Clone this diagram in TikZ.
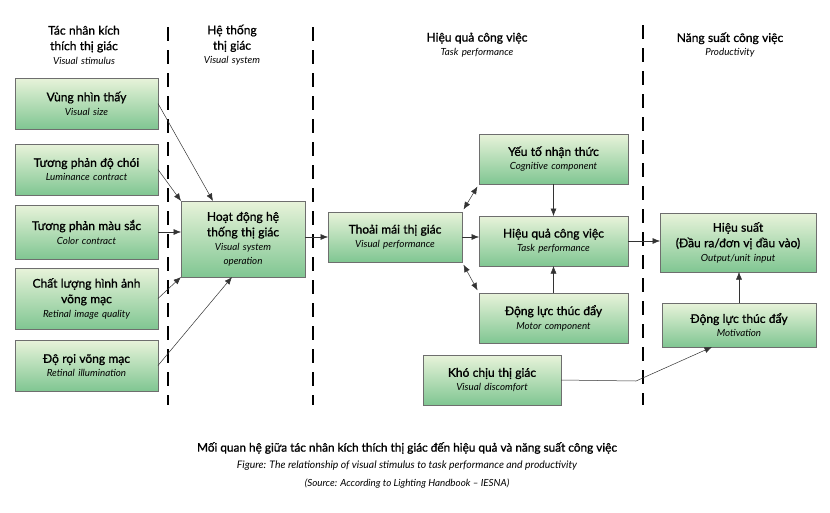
\documentclass[tikz,border=0pt]{standalone}
\usepackage{fontspec}
\setmainfont{Lato}[UprightFeatures={FakeBold=1.2}]
\usepackage{tikz}
\usetikzlibrary{arrows.meta}
\newcommand{\mainsize}{\fontsize{12}{15.5}\selectfont}
\newcommand{\subsize}{\fontsize{9.8}{14}\selectfont\itshape}
\newcommand{\boxtext}[2]{{\mainsize #1\par}{\subsize #2\par}}
\definecolor{boxtop}{RGB}{232,243,218}
\definecolor{boxbottom}{RGB}{128,198,146}
\definecolor{boxedge}{RGB}{110,110,110}

\begin{document}
\begin{tikzpicture}[x=1pt,y=-1pt,
  factor/.style 2 args={draw=boxedge,line width=0.8pt,top color=boxtop,bottom color=boxbottom,
    inner sep=0pt,outer sep=0pt,align=center,text width=#1,minimum height=#2},
  link/.style={line width=0.5pt,draw=black!80,-{Latex[length=7.5pt,width=6pt]}},
  twolink/.style={line width=0.5pt,draw=black!80,{Latex[length=7.5pt,width=6pt]}-{Latex[length=7.5pt,width=6pt]},
    shorten <=3pt,shorten >=3pt},
  divider/.style={line width=2.4pt,dash pattern=on 14pt off 9pt},
  heading/.style={align=center,inner sep=0pt,text width=160pt}]
\useasboundingbox (0,0) rectangle (830,512);

% column headings
\node[heading] (headStimulus)   at (  84, 45) {{\mainsize Tác nhân kích\\thích thị giác\par}{\subsize Visual stimulus\par}};
\node[heading] (headSystem)     at ( 232, 45) {{\mainsize Hệ thống\\thị giác\par}{\subsize Visual system\par}};
\node[heading] (headTask)       at ( 477, 45) {{\mainsize Hiệu quả công việc\par}{\subsize Task performance\par}};
\node[heading] (headProduct)    at ( 730, 45) {{\mainsize Năng suất công việc\par}{\subsize Productivity\par}};

% column dividers
\draw[divider] (168,27) -- (168,405);
\draw[divider] (313,27) -- (313,405);
\draw[divider] (643,25) -- (643,405);

% visual stimulus
\node[factor={143pt}{51pt}] (visualSize)   at (86.5,103.5) {\boxtext{Vùng nhìn thấy}{Visual size}};
\node[factor={143pt}{51pt}] (luminance)    at (86.5,169.5) {\boxtext{Tương phản độ chói}{Luminance contract}};
\node[factor={143pt}{54pt}] (colour)       at (86.5,232)   {\boxtext{Tương phản màu sắc}{Color contract}};
\node[factor={143pt}{61pt}] (retinalImage) at (86.5,298.5) {\boxtext{Chất lượng hình ảnh\\võng mạc}{Retinal image quality}};
\node[factor={143pt}{51pt}] (retinalIllum) at (86.5,365.5) {\boxtext{Độ rọi võng mạc}{Retinal illumination}};

% visual system
\node[factor={124pt}{76pt}] (systemOp)     at (243,239)    {\boxtext{Hoạt động hệ\\thống thị giác}{Visual system\\operation}};

% task performance
\node[factor={134pt}{50pt}] (comfort)      at (395,237)    {\boxtext{Thoải mái thị giác}{Visual performance}};
\node[factor={149pt}{50pt}] (cognitive)    at (553.5,159)  {\boxtext{Yếu tố nhận thức}{Cognitive component}};
\node[factor={149pt}{50pt}] (task)         at (553.5,241)  {\boxtext{Hiệu quả công việc}{Task performance}};
\node[factor={149pt}{50pt}] (motor)        at (553.5,318)  {\boxtext{Động lực thúc đẩy}{Motor component}};
\node[factor={138pt}{50pt}] (discomfort)   at (492,380)    {\boxtext{Khó chịu thị giác}{Visual discomfort}};

% productivity
\node[factor={156pt}{59pt}] (output)       at (738,242.5)  {\boxtext{Hiệu suất\\(Đầu ra/đơn vị đầu vào)}{Output/unit input}};
\node[factor={154pt}{44pt}] (motivation)   at (739,325)    {\boxtext{Động lực thúc đẩy}{Motivation}};

\coordinate (discomfortBend) at (636,381);

% connectors
\draw[link] (visualSize.east)   -- ([xshift=-30pt]systemOp.north);
\draw[link] (luminance.east)    -- (systemOp.north west);
\draw[link] (colour.east)       -- (colour.east -| systemOp.west);
\draw[link] (retinalImage.east) -- (systemOp.south west);
\draw[link] (retinalIllum.east) -- ([xshift=-11pt]systemOp.south);
\draw[link] (systemOp.east |- comfort.west) -- (comfort.west);
\draw[twolink] (comfort.north east) -- (cognitive.south west);
\draw[link] (comfort.east)      -- (comfort.east -| task.west);
\draw[twolink] (comfort.south east) -- (motor.north west);
\draw[link] (cognitive.south)   -- (task.north);
\draw[link] (motor.north)       -- (task.south);
\draw[link] (task.east)         -- (task.east -| output.west);
\draw[link] (motivation.north)  -- (motivation.north |- output.south);
\draw[link] (discomfort.east)   -- (discomfortBend) -- ([xshift=-27pt]motivation.south);

% caption
\node[inner sep=0pt] (caption)  at (407,448) {\fontsize{11.8}{14}\selectfont Mối quan hệ giữa tác nhân kích thích thị giác đến hiệu quả và năng suất công việc};
\node[inner sep=0pt] (figure)   at (407,466) {\fontsize{10.4}{12}\selectfont\itshape Figure: The relationship of visual stimulus to task performance and productivity};
\node[inner sep=0pt] (source)   at (407,484) {\fontsize{9.8}{12}\selectfont\itshape (Source: According to Lighting Handbook -- IESNA)};
\end{tikzpicture}
\end{document}
